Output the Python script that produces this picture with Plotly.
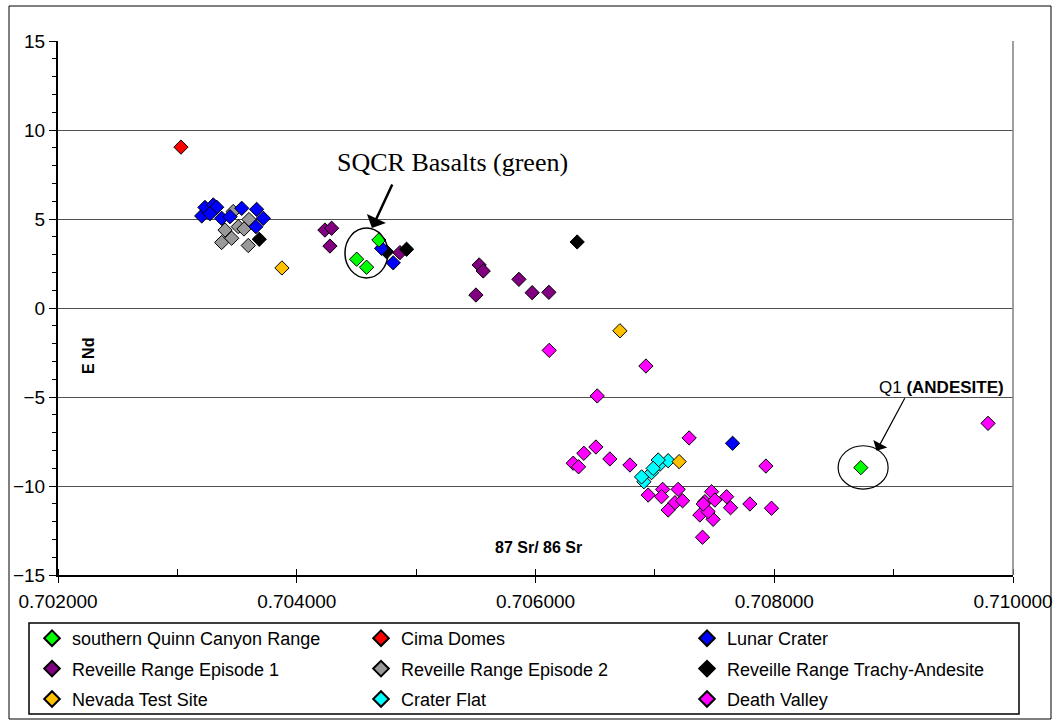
import plotly.graph_objects as go

# ---------------- data ----------------
sqcr_x = [0.704688, 0.704502, 0.704585, 0.708725]
sqcr_y = [3.82, 2.74, 2.29, -8.97]

cima_x = [0.703030]
cima_y = [9.04]

lunar_x = [0.703204, 0.703231, 0.703301, 0.703329, 0.703273, 0.703371, 0.703441,
           0.703539, 0.703664, 0.703720, 0.703658, 0.704711, 0.704808, 0.707651]
lunar_y = [5.17, 5.65, 5.79, 5.66, 5.30, 5.04, 5.13,
           5.60, 5.54, 5.04, 4.57, 3.35, 2.54, -7.60]

rr1_x = [0.704236, 0.704292, 0.704278, 0.704864, 0.705528, 0.705562, 0.705501,
         0.705861, 0.705972, 0.706112]
rr1_y = [4.38, 4.48, 3.48, 3.11, 2.42, 2.08, 0.73, 1.61, 0.86, 0.88]

rr2_x = [0.703468, 0.703600, 0.703510, 0.703399, 0.703371, 0.703455, 0.703594, 0.703558]
rr2_y = [5.42, 4.97, 4.57, 4.38, 3.68, 3.92, 3.51, 4.44]

rrta_x = [0.703686, 0.704753, 0.704920, 0.706349]
rrta_y = [3.86, 3.16, 3.30, 3.71]

nts_x = [0.703876, 0.706707, 0.707203]
nts_y = [2.25, -1.28, -8.63]

cf_x = [0.706908, 0.706972, 0.707042, 0.707111, 0.707028, 0.706986, 0.706889]
cf_y = [-9.76, -9.25, -8.78, -8.58, -8.54, -9.01, -9.49]

dv_x = [0.706115, 0.706925, 0.706517, 0.707287, 0.706506, 0.706405, 0.706316,
        0.706361, 0.706623, 0.706791, 0.707930, 0.706944, 0.707065, 0.707056,
        0.707195, 0.707168, 0.707232, 0.707111, 0.707475, 0.707419, 0.707503,
        0.707377, 0.707488, 0.707601, 0.707634, 0.707796, 0.707977, 0.707399,
        0.707446, 0.707405, 0.709791]
dv_y = [-2.38, -3.26, -4.94, -7.30, -7.81, -8.16, -8.72,
        -8.92, -8.48, -8.82, -8.88, -10.51, -10.19, -10.60,
        -10.19, -10.94, -10.83, -11.35, -10.32, -10.88, -10.79,
        -11.63, -11.87, -10.60, -11.22, -11.01, -11.25, -12.88,
        -11.44, -11.01, -6.48]

x_ticks = [0.702, 0.704, 0.706, 0.708, 0.710]
y_ticks = [-15, -10, -5, 0, 5, 10, 15]

# (name, x, y, color, legend column, rank within column) -- listed in drawing order
series = [
    ("Reveille Range Episode 2", rr2_x, rr2_y, "#999999", "legend2", 2),
    ("Reveille Range Episode 1", rr1_x, rr1_y, "#800080", "legend", 2),
    ("Reveille Range Trachy-Andesite", rrta_x, rrta_y, "#000000", "legend3", 2),
    ("Lunar Crater", lunar_x, lunar_y, "#0000FF", "legend3", 1),
    ("southern Quinn Canyon Range", sqcr_x, sqcr_y, "#00FF00", "legend", 1),
    ("Cima Domes", cima_x, cima_y, "#FF0000", "legend2", 1),
    ("Death Valley", dv_x, dv_y, "#FF00FF", "legend3", 3),
    ("Crater Flat", cf_x, cf_y, "#00FFFF", "legend2", 3),
    ("Nevada Test Site", nts_x, nts_y, "#FFC000", "legend", 3),
]

fig = go.Figure()
for name, xs, ys, col, leg, rank in series:
    fig.add_trace(go.Scatter(
        x=xs, y=ys, mode="markers", name=name,
        legend=leg, legendrank=rank, legendgroup=name,
        marker=dict(symbol="diamond", size=11, color=col,
                    line=dict(color="#000000", width=1)),
    ))

W, H = 1062, 722
L, R, T, B = 58, 49, 41, 147
pw, ph = W - L - R, H - T - B


def px(xp):
    return (xp - L) / pw


def py(yp):
    return (H - B - yp) / ph


font_sans = "Liberation Sans, Arial, sans-serif"
leg_font = dict(family=font_sans, size=18, color="#000000")
leg_common = dict(orientation="v", xanchor="left", yanchor="top",
                  xref="container", yref="container",
                  bgcolor="rgba(0,0,0,0)", borderwidth=0, font=leg_font,
                  tracegroupgap=4, itemsizing="constant")

fig.update_layout(
    width=W, height=H,
    margin=dict(l=L, r=R, t=T, b=B, pad=0, autoexpand=False),
    paper_bgcolor="#FFFFFF", plot_bgcolor="#FFFFFF",
    font=dict(family=font_sans, size=17, color="#000000"),
    legend=dict(x=32 / W, y=1 - 620 / H, **leg_common),
    legend2=dict(x=361 / W, y=1 - 620 / H, **leg_common),
    legend3=dict(x=687 / W, y=1 - 620 / H, **leg_common),
    xaxis=dict(range=[0.702, 0.710], tickvals=x_ticks, tickformat=".6f",
               showgrid=False, zeroline=False, showline=True,
               linecolor="#000000", linewidth=2, ticks="outside", ticklen=6,
               tickcolor="#000000", tickfont=dict(family=font_sans, size=19),
               ticklabelstandoff=2,
               minor=dict(dtick=0.001, tick0=0.702, ticks="inside", ticklen=6,
                          tickcolor="#000000", showgrid=False)),
    yaxis=dict(range=[-15, 15], tickvals=y_ticks, showgrid=True,
               gridcolor="#505050", gridwidth=1, zeroline=False, showline=True,
               linecolor="#000000", linewidth=2, ticks="outside", ticklen=7,
               tickcolor="#000000", tickfont=dict(family=font_sans, size=19),
               minor=dict(dtick=1, tick0=0, ticks="outside", ticklen=4,
                          tickcolor="#000000", showgrid=False)),
    showlegend=True,
)

# outer chart border, legend box, right plot border
fig.add_shape(type="rect", xref="paper", yref="paper",
              x0=px(9), x1=px(1051), y0=py(719), y1=py(6),
              line=dict(color="#000000", width=1), layer="below")
fig.add_shape(type="rect", xref="paper", yref="paper",
              x0=px(29), x1=px(1019), y0=py(714), y1=py(623),
              line=dict(color="#000000", width=1.5), layer="below")
fig.add_shape(type="line", xref="paper", yref="paper",
              x0=1, x1=1, y0=0, y1=1, line=dict(color="#808080", width=1.5))

# ellipses
fig.add_shape(type="circle", xref="x", yref="y",
              x0=0.704404, x1=0.704764, y0=1.69, y1=4.49,
              line=dict(color="#000000", width=1.5))
fig.add_shape(type="circle", xref="x", yref="y",
              x0=0.708535, x1=0.708954, y0=-10.17, y1=-7.74,
              line=dict(color="#000000", width=1.2))

# annotations
ctr = dict(xanchor="center", yanchor="middle", showarrow=False)
fig.add_annotation(x=px(452), y=py(162), xref="paper", yref="paper",
                   text="SQCR Basalts (green)",
                   font=dict(family="Liberation Serif, Times New Roman, serif", size=26), **ctr)
fig.add_annotation(x=0.704630, y=4.49, xref="x", yref="y", ax=21, ay=-45,
                   text="", showarrow=True, arrowhead=1, arrowsize=1.4,
                   arrowwidth=2.5, arrowcolor="#000000", standoff=0)
fig.add_annotation(x=px(941), y=py(387), xref="paper", yref="paper",
                   text="Q1 <b>(ANDESITE)</b>",
                   font=dict(family=font_sans, size=17), **ctr)
fig.add_annotation(x=0.708857, y=-8.02, xref="x", yref="y", ax=29, ay=-54,
                   text="", showarrow=True, arrowhead=1, arrowsize=2.2,
                   arrowwidth=1.2, arrowcolor="#000000", standoff=0)
fig.add_annotation(x=px(88), y=py(356), xref="paper", yref="paper",
                   text="<b>E Nd</b>", textangle=-90,
                   font=dict(family=font_sans, size=16), **ctr)
fig.add_annotation(x=px(538), y=py(547), xref="paper", yref="paper",
                   text="<b>87 Sr/ 86 Sr</b>",
                   font=dict(family=font_sans, size=16), **ctr)

fig.write_html("out.html")
